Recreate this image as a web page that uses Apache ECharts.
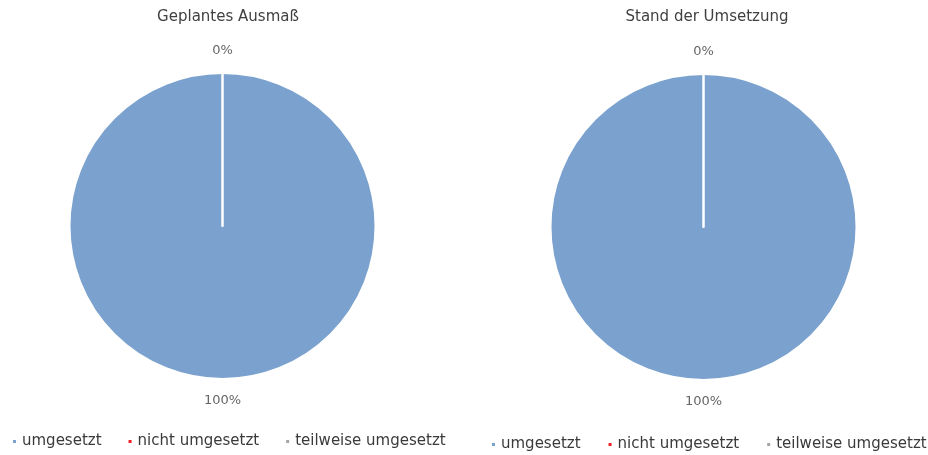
<!DOCTYPE html>
<html>
<head>
<meta charset="utf-8">
<style>
  html, body { margin: 0; padding: 0; background: #fff; }
  #chart { width: 928px; height: 455px; }
</style>
<script src="https://cdn.jsdelivr.net/npm/echarts@6/dist/echarts.min.js"></script>
</head>
<body>
<div id="chart"></div>
<script>
// Status categories shared by both pies
const categories = ['umgesetzt', 'nicht umgesetzt', 'teilweise umgesetzt'];
// Share per status, in percent
const geplantValues = [100, 0, 0];
const standValues = [100, 0, 0];
const chartTitles = ['Geplantes Ausmaß', 'Stand der Umsetzung'];
const colors = ['#7BA2CE', '#EE1C25', '#A5A5A5'];

const FONT = '"DejaVu Sans", Verdana, sans-serif';

function toData(values) {
  return categories.map((name, i) => ({ name: name, value: values[i] }));
}

// Place the percent labels: full slice below the disc, empty slices above it
function placeLabel(params) {
  const r = params.rect;
  const cx = r.x + r.width / 2;
  if (r.width > 20) {
    return { x: cx, y: r.y + r.height + 21, align: 'center', verticalAlign: 'middle', hideOverlap: true };
  }
  return { x: cx, y: r.y - 21, align: 'center', verticalAlign: 'middle', hideOverlap: true };
}

function pieSeries(name, values, center) {
  return {
    name: name,
    type: 'pie',
    center: center,
    radius: 153,
    startAngle: 90,
    clockwise: true,
    avoidLabelOverlap: false,
    animation: false,
    itemStyle: { borderColor: '#ffffff', borderWidth: 2 },
    label: {
      show: true,
      position: 'outside',
      formatter: p => Math.round(p.value) + '%',
      fontFamily: FONT,
      fontSize: 13,
      color: '#666666'
    },
    labelLine: { show: false },
    labelLayout: placeLabel,
    emphasis: { disabled: true },
    data: toData(values)
  };
}

function legendFor(left, top, gap) {
  return {
    left: left,
    top: top,
    orient: 'horizontal',
    padding: 0,
    itemGap: gap,
    itemWidth: 5,
    itemHeight: 5,
    icon: 'rect',
    selectedMode: false,
    data: categories,
    textStyle: { fontFamily: FONT, fontSize: 15, color: '#3a3a3a', padding: [0, 0, 0, 0] }
  };
}

const chart = echarts.init(document.getElementById('chart'), null, { renderer: 'canvas' });
chart.setOption({
  backgroundColor: '#ffffff',
  color: colors,
  title: [
    { text: chartTitles[0], left: 223, top: 5, textAlign: 'center',
      textStyle: { fontFamily: FONT, fontSize: 15, fontWeight: 'normal', color: '#404040' } },
    { text: chartTitles[1], left: 702, top: 5, textAlign: 'center',
      textStyle: { fontFamily: FONT, fontSize: 15, fontWeight: 'normal', color: '#404040' } }
  ],
  legend: [
    legendFor(11, 434, 25),
    legendFor(490, 437, 26)
  ],
  series: [
    pieSeries(chartTitles[0], geplantValues, [222.5, 226]),
    pieSeries(chartTitles[1], standValues, [703.5, 227])
  ]
});
</script>
</body>
</html>
